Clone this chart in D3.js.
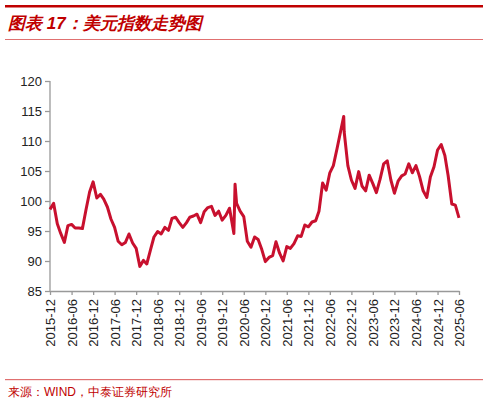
<!DOCTYPE html>
<html><head><meta charset="utf-8">
<script src="https://cdn.jsdelivr.net/npm/d3@7"></script>
<style>body{margin:0;background:#fff;} text{font-family:Arial,"Liberation Sans",sans-serif;}</style>
</head><body>
<svg id="chart" width="488" height="404"></svg>
<script>
// 美元指数 monthly values, plus a few intra-month extremes
var dates = ["2015-12","2016-01","2016-02","2016-03","2016-04","2016-05","2016-06","2016-07","2016-08","2016-09","2016-10","2016-11","2016-12",
  "2017-01","2017-02","2017-03","2017-04","2017-05","2017-06","2017-07","2017-08","2017-09","2017-10","2017-11","2017-12",
  "2018-01","2018-02","2018-03","2018-04","2018-05","2018-06","2018-07","2018-08","2018-09","2018-10","2018-11","2018-12",
  "2019-01","2019-02","2019-03","2019-04","2019-05","2019-06","2019-07","2019-08","2019-09","2019-10","2019-11","2019-12",
  "2020-01","2020-02","2020-03-09","2020-03-19","2020-04","2020-05","2020-06","2020-07","2020-08","2020-09","2020-10","2020-11","2020-12",
  "2021-01","2021-02","2021-03","2021-04","2021-05","2021-06","2021-07","2021-08","2021-09","2021-10","2021-11","2021-12",
  "2022-01","2022-02","2022-03","2022-04","2022-05","2022-06","2022-07","2022-08","2022-09-27","2022-10","2022-11","2022-12",
  "2023-01","2023-02","2023-03","2023-04","2023-05","2023-06","2023-07","2023-08","2023-09","2023-10","2023-11","2023-12",
  "2024-01","2024-02","2024-03","2024-04","2024-05","2024-06","2024-07","2024-08","2024-09","2024-10","2024-11","2024-12",
  "2025-01","2025-02","2025-03","2025-04","2025-05","2025-06"];
var values = [98.6,99.6,96.2,94.6,93.1,95.9,96.1,95.5,95.5,95.4,98.5,101.5,103.2,
  100.5,101.1,100.3,99.0,97.0,95.6,93.3,92.7,93.1,94.5,93.0,92.1,
  89.1,90.1,89.5,91.8,94.0,94.9,94.5,95.6,95.1,97.1,97.3,96.4,
  95.6,96.4,97.3,97.5,97.8,96.4,98.2,98.9,99.1,97.6,98.3,96.8,
  97.6,98.8,94.6,102.8,99.6,98.3,97.4,93.3,92.3,94.0,93.6,91.9,89.9,
  90.6,90.9,93.2,91.3,90.0,92.4,92.1,92.9,94.2,94.1,96.0,95.7,
  96.5,96.7,98.3,103.0,101.8,104.7,105.9,108.7,114.1,111.5,105.9,103.5,
  102.1,104.9,102.5,101.7,104.3,102.9,101.4,103.6,106.2,106.7,103.5,101.3,
  103.3,104.2,104.5,106.2,104.7,105.9,104.1,101.7,100.6,104.0,105.7,108.5,
  109.4,107.6,104.2,99.5,99.3,97.2];
var xTicks = ["2015-12","2016-06","2016-12","2017-06","2017-12","2018-06","2018-12","2019-06","2019-12","2020-06",
  "2020-12","2021-06","2021-12","2022-06","2022-12","2023-06","2023-12","2024-06","2024-12","2025-06"];
var yTicks = [85,90,95,100,105,110,115,120];

var red = "#c00000";
var svg = d3.select("#chart");
var parse = function(s){ return s.length > 7 ? d3.timeParse("%Y-%m-%d")(s) : d3.timeParse("%Y-%m")(s); };

// header
svg.append("rect").attr("x",5).attr("y",5).attr("width",478).attr("height",2.5).attr("fill",red);
svg.append("text").attr("x",8).attr("y",29).attr("fill",red).attr("font-size",17).attr("font-style","italic")
  .attr("font-weight","bold").attr("font-family","'Noto Sans CJK SC',sans-serif").text("图表 17：美元指数走势图");
svg.append("rect").attr("x",5).attr("y",39).attr("width",478).attr("height",1).attr("fill","#e07070");

var x = d3.scaleTime().domain([parse("2015-12"), parse("2025-06")]).range([50, 459]);
var y = d3.scaleLinear().domain([85,120]).range([291, 81]);

var yAxis = svg.append("g").attr("transform","translate(50,0)")
  .call(d3.axisLeft(y).tickValues(yTicks).tickSize(5).tickSizeOuter(0).tickPadding(3));
yAxis.select(".domain").attr("d","M0,81V291");
var xAxis = svg.append("g").attr("transform","translate(0,291)")
  .call(d3.axisBottom(x).tickValues(xTicks.map(parse)).tickFormat(d3.timeFormat("%Y-%m")).tickSize(4).tickSizeOuter(0));
xAxis.selectAll("text").attr("transform","rotate(-90)").attr("text-anchor","end")
  .attr("x",-8).attr("y",0).attr("dy","0.35em");
svg.selectAll(".domain, .tick line").attr("stroke","#999").attr("stroke-width",1.3);
svg.selectAll(".tick text").attr("font-size",13).attr("fill","#222");

var data = dates.map(function(d,i){ return {date: parse(d), value: values[i]}; });
svg.append("path").datum(data).attr("fill","none").attr("stroke","#c8102e").attr("stroke-width",3)
  .attr("stroke-linejoin","round")
  .attr("d", d3.line().x(function(d){return x(d.date);}).y(function(d){return y(d.value);}));

// footer
svg.append("rect").attr("x",5).attr("y",379).attr("width",478).attr("height",1.2).attr("fill","#e07070");
svg.append("text").attr("x",8).attr("y",396).attr("fill",red).attr("font-size",12)
  .attr("font-family","'Noto Sans CJK SC',sans-serif").text("来源：WIND，中泰证券研究所");
</script>
</body></html>
